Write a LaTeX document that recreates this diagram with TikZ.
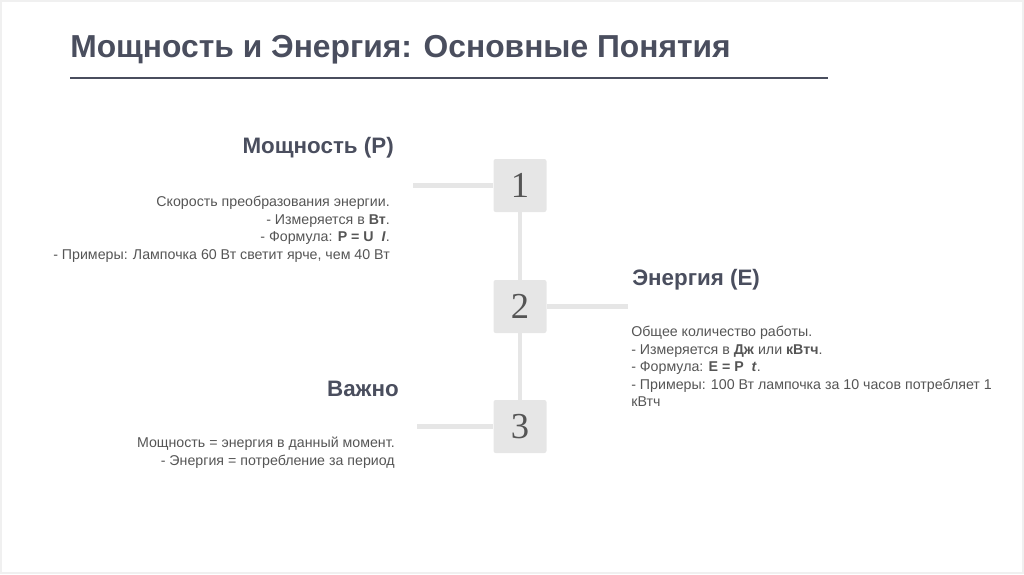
\documentclass[tikz,border=0pt]{standalone}
\usepackage{fontspec}
\setmainfont{Liberation Sans}
\newfontfamily\numfont{Liberation Serif}
\usetikzlibrary{positioning}

\definecolor{titlecol}{HTML}{4A4E5E}
\definecolor{textcol}{HTML}{555555}
\definecolor{boxcol}{HTML}{E6E6E6}
\definecolor{framecol}{HTML}{F0F0F0}

\tikzset{
  numbox/.style={fill=boxcol, rounded corners=1.5pt, minimum size=53*0.025cm, inner sep=0pt,
                 font=\numfont\fontsize{26}{26}\selectfont, text=textcol},
  link/.style={draw=boxcol, line width=3pt},
  head/.style={font=\bfseries\fontsize{15.9}{18}\selectfont, text=titlecol, inner sep=0pt},
  body/.style={font=\fontsize{10.1}{12.4}\selectfont, text=textcol, inner sep=0pt}
}

\begin{document}
\begin{tikzpicture}[x=0.025cm, y=-0.025cm]
    % Fondo y marco de la diapositiva
    \useasboundingbox (0,0) rectangle (1024,574);
    \draw[framecol, line width=1pt] (1,1) rectangle (1023,573);

    % Titulo
    \node[anchor=west, inner sep=0pt, text=titlecol,
          font=\bfseries\fontsize{22.6}{26}\selectfont] (title) at (70,50)
          {Мощность и Энергия: Основные Понятия};
    \draw[titlecol, line width=1.5pt] (70,78) -- (828,78);

    % Cajas numeradas
    \node[numbox] (b1) at (520,185.5) {1};
    \node[numbox] (b2) at (520,306.5) {2};
    \node[numbox] (b3) at (520,426.5) {3};

    % Puntos libres de las lineas horizontales
    \coordinate (e1) at (413,185.5);
    \coordinate (e2) at (628,306.5);
    \coordinate (e3) at (417,426.5);

    % Lineas de union
    \draw[link] (b1) -- (b2);
    \draw[link] (b2) -- (b3);
    \draw[link] (b1.west) -- (e1);
    \draw[link] (b2.east) -- (e2);
    \draw[link] (b3.west) -- (e3);

    % Bloque 1: Mощность
    \node[head, anchor=east] (h1) at (394,148) {Мощность (P)};
    \node[body, anchor=north east, align=right] (t1) at (390,196)
      {Скорость преобразования энергии.\\
       - Измеряется в \textbf{Вт}.\\
       - Формула: \textbf{P = U}\ \ \textbf{\textit{I}}.\\
       - Примеры: Лампочка 60 Вт светит ярче, чем 40 Вт};

    % Bloque 2: Энергия
    \node[head, anchor=west] (h2) at (632,280) {Энергия (E)};
    \node[body, anchor=north west, align=left] (t2) at (631,326)
      {Общее количество работы.\\
       - Измеряется в \textbf{Дж} или \textbf{кВтч}.\\
       - Формула: \textbf{E = P}\ \ \textbf{\textit{t}}.\\
       - Примеры: 100 Вт лампочка за 10 часов потребляет 1\\
       кВтч};

    % Bloque 3: Важно
    \node[head, anchor=east] (h3) at (399,389) {Важно};
    \node[body, anchor=north east, align=right] (t3) at (395,437)
      {Мощность = энергия в данный момент.\\
       - Энергия = потребление за период};
\end{tikzpicture}
\end{document}
